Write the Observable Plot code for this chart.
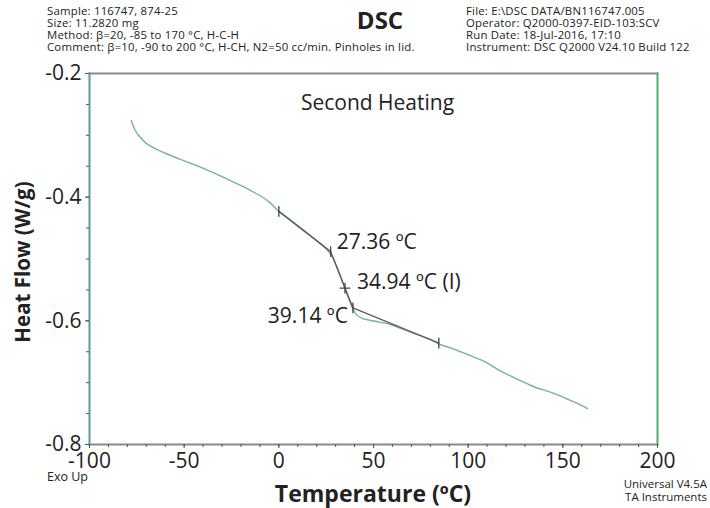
<!DOCTYPE html>
<html>
<head>
<meta charset="utf-8">
<script src="https://cdn.jsdelivr.net/npm/d3@7"></script>
<script src="https://cdn.jsdelivr.net/npm/@observablehq/plot@0.6"></script>
<style>
  html, body { margin: 0; padding: 0; background: #fff; }
  #wrap { position: relative; width: 710px; height: 508px; font-family: "Open Sans", sans-serif; color: #222; overflow: hidden; }
  #wrap svg { position: absolute; left: 0; top: 0; }
  .t { position: absolute; white-space: nowrap; }
  .hdr { font-size: 11.4px; line-height: 12px; letter-spacing: 0.2px; }
</style>
</head>
<body>
<div id="wrap">
  <div class="t hdr" style="left:47px; top:5px;">
    Sample: 116747, 874-25<br>Size: 11.2820 mg<br>Method: β=20, -85 to 170 °C, H-C-H<br>Comment: β=10, -90 to 200 °C, H-CH, N2=50 cc/min. Pinholes in lid.
  </div>
  <div class="t" style="left:380px; top:20px; transform:translate(-50%,-50%); font-size:24px; font-weight:700; line-height:28px;">DSC</div>
  <div class="t hdr" style="left:466px; top:5px;">
    File: E:\DSC DATA/BN116747.005<br>Operator: Q2000-0397-EID-103:SCV<br>Run Date: 18-Jul-2016, 17:10<br>Instrument: DSC Q2000 V24.10 Build 122
  </div>
</div>
<script>
// ---- data ----
const tempC = [-78, -76, -73, -70, -65, -60, -52, -45, -35, -25, -15, -5, 0, 5, 10, 15, 20, 25, 28, 31, 34, 37, 39, 41, 44, 48, 53, 59, 65, 72, 80, 85, 90, 96, 101, 110, 117, 125, 135, 145, 152, 158, 163];
const heatFlow = [-0.276, -0.291, -0.304, -0.313, -0.322, -0.329, -0.339, -0.347, -0.360, -0.374, -0.389, -0.408, -0.423, -0.434, -0.446, -0.458, -0.470, -0.484, -0.495, -0.515, -0.540, -0.565, -0.580, -0.590, -0.596, -0.599, -0.602, -0.606, -0.613, -0.621, -0.630, -0.638, -0.643, -0.650, -0.656, -0.668, -0.681, -0.693, -0.707, -0.717, -0.726, -0.734, -0.742];

// tangent construction points (onset, inflection, end)
const tangentX = [0, 27.36, 34.94, 39.14, 84.5];
const tangentY = [-0.423, -0.488, -0.547, -0.579, -0.636];
const tangentMark = ["bar", "bar", "plus", "bar", "bar"];

const labelX = [27.36, 34.94, 39.14];
const labelY = [-0.488, -0.547, -0.579];
const labelText = ["27.36 ºC", "34.94 ºC (I)", "39.14 ºC"];

const xMajor = [-100, -50, 0, 50, 100, 150, 200];
const xMinor = d3.range(-100, 201, 10);
const yMajor = [-0.8, -0.6, -0.4, -0.2];
const yMinor = [-0.8, -0.75, -0.7, -0.65, -0.6, -0.55, -0.5, -0.45, -0.4, -0.35, -0.3, -0.25, -0.2];

const curve = tempC.map((t, i) => ({t, h: heatFlow[i]}));
const tang = tangentX.map((t, i) => ({t, h: tangentY[i], m: tangentMark[i]}));
const labs = labelX.map((t, i) => ({t, h: labelY[i], s: labelText[i]}));

const barSymbol = {draw(ctx, size) { const r = Math.sqrt(size) / 2; ctx.moveTo(0, -r); ctx.lineTo(0, r); }};
const plusSymbol = {draw(ctx, size) { const r = Math.sqrt(size) / 2; ctx.moveTo(0, -r); ctx.lineTo(0, r); ctx.moveTo(-r, 0); ctx.lineTo(r, 0); }};

const chart = Plot.plot({
  width: 710,
  height: 508,
  marginLeft: 89,
  marginRight: 53,
  marginTop: 73,
  marginBottom: 64,
  style: {fontFamily: "'Open Sans', sans-serif", background: "transparent", color: "#222"},
  x: {domain: [-100, 200]},
  y: {domain: [-0.8, -0.2]},
  marks: [
    Plot.frame({anchor: "top", stroke: "#8a8a8a", strokeWidth: 2}),
    Plot.frame({anchor: "bottom", stroke: "#8a8a8a", strokeWidth: 2}),
    Plot.frame({anchor: "left", stroke: "#5b9aa3", strokeWidth: 2}),
    Plot.frame({anchor: "right", stroke: "#4fae6e", strokeWidth: 2}),
    Plot.axisX(xMinor, {tickSize: 3, tickFormat: () => "", stroke: "#555", label: null}),
    Plot.axisX(xMajor, {tickSize: 4, tickPadding: 5, tickFormat: d => String(d), fontSize: 21, fill: "#222", stroke: "#555", label: null}),
    Plot.axisY(yMinor, {tickSize: 3, tickFormat: () => "", stroke: "#555", label: null}),
    Plot.axisY(yMajor, {tickSize: 4, tickPadding: 4, tickFormat: d => d.toFixed(1), fontSize: 21, fill: "#222", stroke: "#555", label: null}),
    Plot.line(curve, {x: "t", y: "h", stroke: "#72b985", strokeWidth: 1.4, curve: "monotone-x"}),
    Plot.line(tang, {x: "t", y: "h", stroke: "#5e5e5e", strokeWidth: 1.4}),
    Plot.dot(tang.filter(d => d.m === "bar"), {x: "t", y: "h", symbol: barSymbol, r: 6, stroke: "#444", strokeWidth: 1.3, fill: "none"}),
    Plot.dot(tang.filter(d => d.m === "plus"), {x: "t", y: "h", symbol: plusSymbol, r: 6, stroke: "#444", strokeWidth: 1.3, fill: "none"}),
    Plot.text(labs.slice(0, 1), {x: "t", y: "h", text: "s", textAnchor: "start", dx: 6, dy: -9, fontSize: 21, fill: "#222"}),
    Plot.text(labs.slice(1, 2), {x: "t", y: "h", text: "s", textAnchor: "start", dx: 12, dy: -6, fontSize: 21, fill: "#222"}),
    Plot.text(labs.slice(2, 3), {x: "t", y: "h", text: "s", textAnchor: "end", dx: -5, dy: 8, fontSize: 21, fill: "#222"}),
    Plot.text(["Second Heating"], {frameAnchor: "top", dx: 4, dy: 22, fontSize: 21, fill: "#222"})
  ]
});
const wrap = document.getElementById("wrap");
wrap.insertBefore(chart, wrap.firstChild);

function addText(html, style) {
  const d = document.createElement("div");
  d.className = "t";
  d.innerHTML = html;
  d.setAttribute("style", style);
  wrap.appendChild(d);
}
addText("Heat Flow (W/g)", "left:22px; top:262px; transform:translate(-50%,-50%) rotate(-90deg); font-size:20.5px; font-weight:700; line-height:24px;");
addText("Temperature (ºC)", "left:373px; top:493px; transform:translate(-50%,-50%); font-size:23px; font-weight:700; line-height:24px;");
addText("Exo Up", "left:47px; top:470px; font-size:12.5px; line-height:14px;");
addText("Universal V4.5A<br>TA Instruments", "right:3px; top:477px; font-size:11.5px; line-height:13px; text-align:right;");
</script>
</body>
</html>
